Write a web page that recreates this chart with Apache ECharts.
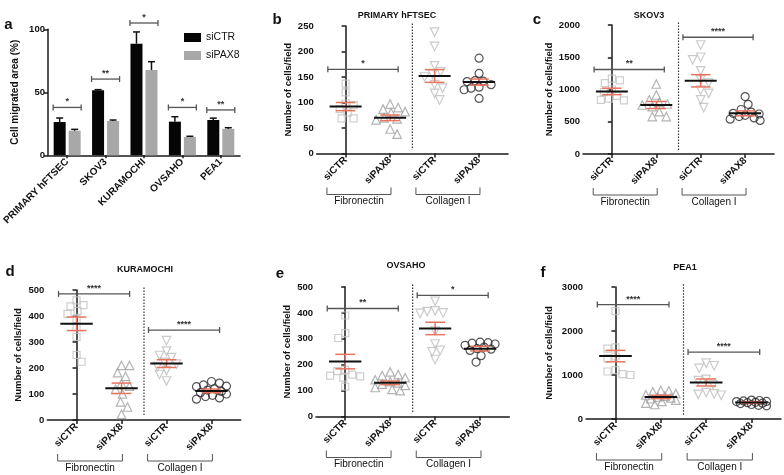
<!DOCTYPE html>
<html><head><meta charset="utf-8">
<script src="https://cdn.jsdelivr.net/npm/echarts@6/dist/echarts.min.js"></script>
<style>html,body{margin:0;padding:0;background:#fff}#c{width:784px;height:475px}</style>
</head><body><div id="c"></div>
<script>
// ---------------- Panel a (bar chart) ----------------
const aCategories = ['PRIMARY hFTSEC', 'SKOV3', 'KURAMOCHI', 'OVSAHO', 'PEA1'];
const aSiCTR      = [26.4, 51.6, 88.6, 26.7, 28.0];
const aSiCTRErr   = [3.2, 0.5, 9.3, 3.9, 1.5];
const aSiPAX8     = [19.5, 27.2, 67.7, 14.5, 21.0];
const aSiPAX8Err  = [1.1, 0.8, 6.6, 0.6, 0.9];
const aSigLevel   = [38, 60.5, 105, 38, 36];
const aSigText    = ['*', '**', '*', '*', '**'];
const aYName      = 'Cell migrated area (%)';

// ---------------- Shared labels ----------------
const groupLabels  = ['siCTR', 'siPAX8', 'siCTR', 'siPAX8'];
const matrixLabels = ['Fibronectin', 'Collagen I'];
const scatterYName = 'Number of cells/field';

// ---------------- Panel b: PRIMARY hFTSEC ----------------
const bTitle  = 'PRIMARY hFTSEC';
const bFnCtr  = [137, 120, 98, 95, 87, 80, 69, 69];
const bFnPax  = [97, 90, 87, 82, 80, 70, 68, 66, 48, 38];
const bColCtr = [238, 210, 172, 160, 155, 150, 135, 128, 118, 105];
const bColPax = [187, 157, 143, 142, 141, 135, 130, 128, 125, 108];
const bMean   = [92, 70, 152, 140];
const bSem    = [8, 5.5, 12.5, 6];
const bSig    = [[0, 1, 165]];
const bSigTxt = ['*'];
const bYMax = 250, bYStep = 50;

// ---------------- Panel c: SKOV3 ----------------
const cTitle  = 'SKOV3';
const cFnCtr  = [1170, 1140, 1100, 1000, 960, 900, 860, 840, 830];
const cFnPax  = [1085, 915, 840, 800, 775, 760, 735, 656, 580, 580];
const cColCtr = [1690, 1500, 1460, 1290, 1150, 1100, 990, 940, 840, 720];
const cColPax = [890, 770, 690, 650, 630, 620, 600, 580, 560, 540, 520];
const cMean   = [970, 760, 1135, 630];
const cSem    = [50, 55, 95, 38];
const cSig    = [[0, 1, 1310], [2, 3, 1810]];
const cSigTxt = ['**', '****'];
const cYMax = 2000, cYStep = 500;

// ---------------- Panel d: KURAMOCHI ----------------
const dTitle  = 'KURAMOCHI';
const dFnCtr  = [460, 442, 437, 420, 408, 388, 356, 320, 250, 224];
const dFnPax  = [210, 210, 182, 168, 140, 130, 118, 100, 70, 50, 22];
const dColCtr = [305, 265, 248, 240, 222, 215, 205, 190, 175, 150];
const dColPax = [148, 142, 135, 130, 128, 120, 115, 110, 105, 100, 95, 90, 85, 80];
const dMean   = [370, 122, 217, 112];
const dSem    = [26, 20, 15, 7];
const dSig    = [[0, 1, 485], [2, 3, 346]];
const dSigTxt = ['****', '****'];
const dYMax = 500, dYStep = 100;

// ---------------- Panel e: OVSAHO ----------------
const eTitle  = 'OVSAHO';
const eFnCtr  = [390, 322, 303, 180, 175, 162, 158, 155, 150, 115];
const eFnPax  = [172, 162, 158, 150, 142, 135, 130, 125, 120, 112, 105, 100];
const eColCtr = [445, 408, 405, 400, 398, 330, 280, 255, 250, 220];
const eColPax = [287, 285, 283, 280, 275, 268, 262, 260, 255, 235, 210];
const eMean   = [212, 130, 340, 262];
const eSem    = [28, 7, 24, 9];
const eSig    = [[0, 1, 417], [2, 3, 468]];
const eSigTxt = ['**', '*'];
const eYMax = 500, eYStep = 100;

// ---------------- Panel f: PEA1 ----------------
const fTitle  = 'PEA1';
const fFnCtr  = [2450, 1630, 1600, 1420, 1380, 1110, 1080, 1020, 1000];
const fFnPax  = [650, 640, 620, 580, 550, 520, 500, 480, 460, 430, 400, 360, 330];
const fColCtr = [1270, 1210, 1150, 900, 870, 780, 600, 570, 560, 540];
const fColPax = [430, 420, 410, 400, 395, 380, 370, 360, 350, 330, 310, 300];
const fMean   = [1430, 500, 830, 375];
const fSem    = [130, 38, 80, 20];
const fSig    = [[0, 1, 2600], [2, 3, 1520]];
const fSigTxt = ['****', '****'];
const fYMax = 3000, fYStep = 1000;

// ================= layout / style =================
const FONT = '"Liberation Sans", Arial, sans-serif';
const AX = '#1a1a1a';
const RED = '#e8745f';
const X_MIN = -0.65, X_MAX = 3.65;

const panels = [
  {letter:'b', title:bTitle, groups:[bFnCtr,bFnPax,bColCtr,bColPax], mean:bMean, sem:bSem, sig:bSig, sigTxt:bSigTxt, yMax:bYMax, yStep:bYStep,
   grid:{left:316.7, top:26, width:191.3, height:127.5}, nameGap:23, letterPos:[277,19.5], titlePos:[397,15.5]},
  {letter:'c', title:cTitle, groups:[cFnCtr,cFnPax,cColCtr,cColPax], mean:cMean, sem:cSem, sig:cSig, sigTxt:cSigTxt, yMax:cYMax, yStep:cYStep,
   grid:{left:583, top:25, width:191, height:129}, nameGap:28.5, letterPos:[537,20], titlePos:[649,15.5]},
  {letter:'d', title:dTitle, groups:[dFnCtr,dFnPax,dColCtr,dColPax], mean:dMean, sem:dSem, sig:dSig, sigTxt:dSigTxt, yMax:dYMax, yStep:dYStep,
   grid:{left:47.3, top:290, width:193.4, height:130}, nameGap:23.5, letterPos:[10,272], titlePos:[145,270]},
  {letter:'e', title:eTitle, groups:[eFnCtr,eFnPax,eColCtr,eColPax], mean:eMean, sem:eSem, sig:eSig, sigTxt:eSigTxt, yMax:eYMax, yStep:eYStep,
   grid:{left:316, top:287, width:193.3, height:129.5}, nameGap:23.5, letterPos:[280,274], titlePos:[406,266]},
  {letter:'f', title:fTitle, groups:[fFnCtr,fFnPax,fColCtr,fColPax], mean:fMean, sem:fSem, sig:fSig, sigTxt:fSigTxt, yMax:fYMax, yStep:fYStep,
   grid:{left:586, top:287, width:195, height:132}, nameGap:31.5, letterPos:[543,273], titlePos:[685,268]}
];

const shapes = [
  {symbol:'rect', size:7, color:'#c2c2c2', rotate:0},
  {symbol:'triangle', size:8.5, color:'#a0a0a0', rotate:0},
  {symbol:'triangle', size:8.5, color:'#bebebe', rotate:180},
  {symbol:'circle', size:8, color:'#2a2a2a', rotate:0}
];

// beeswarm layout (positions only): each point takes the x offset (within +/-maxOff px)
// closest to the group centre at which it does not overlap earlier points; if none, the least overlapping.
function swarm(vals, center, pxPerX, pxPerY, minDist, maxOff) {
  const order = vals.map((v, i) => i).sort((p, q) => vals[q] - vals[p]);
  const placed = [];
  const out = [];
  order.forEach((k, n) => {
    const y = vals[k] * pxPerY;
    const cands = [0];
    for (let s = 1; s <= maxOff; s++) { if (n % 2) cands.push(s, -s); else cands.push(-s, s); }
    let best = null, bestD = -1, bestDx = 0;
    for (const dx of cands) {
      const d = placed.length ? Math.min(...placed.map(q => Math.hypot(q[0] - dx, q[1] - y))) : Infinity;
      if (d >= minDist) { best = dx; break; }
      if (d > bestD) { bestD = d; bestDx = dx; }
    }
    if (best === null) best = bestDx;
    placed.push([best, y]);
    out.push([center + best / pxPerX, vals[k]]);
  });
  return out;
}

const grids = [{left:45, top:29.3, width:195, height:126}];
const xAxes = [];
const yAxes = [];
const series = [];
const graphics = [];

// ---- panel a axes ----
xAxes.push({type:'category', gridIndex:0, data:aCategories,
  axisLine:{show:true, lineStyle:{color:AX, width:1.5}},
  axisTick:{show:true, alignWithLabel:true, length:3, lineStyle:{color:AX, width:1.5}},
  axisLabel:{rotate:45, fontWeight:'bold', fontSize:10, color:'#111', margin:5, interval:0, fontFamily:FONT},
  splitLine:{show:false}});
yAxes.push({type:'value', gridIndex:0, min:0, max:100, interval:50, name:aYName, nameLocation:'middle', nameGap:28,
  nameTextStyle:{fontWeight:'bold', fontSize:10, color:'#111', fontFamily:FONT},
  axisLine:{show:true, lineStyle:{color:AX, width:1.5}},
  axisTick:{show:true, length:4, lineStyle:{color:AX, width:1.5}},
  axisLabel:{fontWeight:'bold', fontSize:9.5, color:'#111', margin:3, fontFamily:FONT},
  splitLine:{show:false}});

series.push({name:'siCTR', type:'bar', xAxisIndex:0, yAxisIndex:0, data:aSiCTR, barWidth:12, barGap:'25%', itemStyle:{color:'#050505'}});
series.push({name:'siPAX8', type:'bar', xAxisIndex:0, yAxisIndex:0, data:aSiPAX8, barWidth:12, itemStyle:{color:'#a8a8a8'}});
const aErrData = [];
aSiCTR.forEach((v, i) => aErrData.push([i, v, aSiCTRErr[i], 0]));
aSiPAX8.forEach((v, i) => aErrData.push([i, v, aSiPAX8Err[i], 1]));
series.push({type:'custom', xAxisIndex:0, yAxisIndex:0, clip:false, silent:true, z:5, data:aErrData,
  renderItem(params, api) {
    const c = api.coord([api.value(0), api.value(1)]);
    const t = api.coord([api.value(0), api.value(1) + api.value(2)]);
    const x = c[0] + (api.value(3) === 0 ? -7.5 : 7.5);
    return {type:'group', children:[
      {type:'line', shape:{x1:x, y1:c[1], x2:x, y2:t[1]}, style:{stroke:'#111', lineWidth:1.5}},
      {type:'line', shape:{x1:x - 3.5, y1:t[1], x2:x + 3.5, y2:t[1]}, style:{stroke:'#111', lineWidth:1.5}}
    ]};
  }});
series.push({type:'custom', xAxisIndex:0, yAxisIndex:0, clip:false, silent:true, z:5,
  data:aSigLevel.map((y, i) => [i, y]),
  renderItem(params, api) {
    const c = api.coord([api.value(0), api.value(1)]);
    const x1 = c[0] - 14, x2 = c[0] + 14, y = c[1];
    return {type:'group', children:[
      {type:'line', shape:{x1, y1:y, x2, y2:y}, style:{stroke:'#555', lineWidth:1.3}},
      {type:'line', shape:{x1, y1:y - 3, x2:x1, y2:y + 3}, style:{stroke:'#555', lineWidth:1.3}},
      {type:'line', shape:{x1:x2, y1:y - 3, x2, y2:y + 3}, style:{stroke:'#555', lineWidth:1.3}},
      {type:'text', style:{text:aSigText[params.dataIndex], x:c[0], y:y - 1, align:'center', verticalAlign:'bottom', fill:'#333', font:'bold 9px ' + FONT}}
    ]};
  }});
graphics.push({type:'text', x:8.5, y:24.5, style:{text:'a', font:'bold 15px ' + FONT, fill:'#111', align:'center', verticalAlign:'middle'}});

// ---- scatter panels ----
panels.forEach((p, k) => {
  const gi = k + 1;
  grids.push(p.grid);
  const pxPerX = p.grid.width / (X_MAX - X_MIN);
  const pxPerY = p.grid.height / p.yMax;
  xAxes.push({type:'value', gridIndex:gi, min:X_MIN, max:X_MAX,
    axisLine:{show:true, onZero:false, lineStyle:{color:AX, width:1.5}},
    axisTick:{show:true, customValues:[0, 1, 2, 3], length:4, lineStyle:{color:AX, width:1.5}},
    axisLabel:{show:true, customValues:[0, 1, 2, 3], formatter:(v) => groupLabels[Math.round(v)], rotate:45,
      fontWeight:'bold', fontSize:10, color:'#111', margin:5, fontFamily:FONT},
    splitLine:{show:false}});
  yAxes.push({type:'value', gridIndex:gi, min:0, max:p.yMax, interval:p.yStep, name:scatterYName, nameLocation:'middle', nameGap:p.nameGap,
    nameTextStyle:{fontWeight:'bold', fontSize:9.5, color:'#111', fontFamily:FONT},
    axisLine:{show:true, lineStyle:{color:AX, width:1.5}},
    axisTick:{show:true, length:4, lineStyle:{color:AX, width:1.5}},
    axisLabel:{fontWeight:'bold', fontSize:9.5, color:'#111', margin:3, fontFamily:FONT, formatter:(v) => String(v)},
    splitLine:{show:false}});

  p.groups.forEach((vals, g) => {
    const sh = shapes[g];
    series.push({type:'scatter', xAxisIndex:gi, yAxisIndex:gi, silent:true,
      data:swarm(vals, g, pxPerX, pxPerY, 8, 15),
      symbol:sh.symbol, symbolSize:sh.size, symbolRotate:sh.rotate,
      itemStyle:{color:'rgba(255,255,255,0)', borderColor:sh.color, borderWidth:1.2}});
  });

  // separator
  series.push({type:'custom', xAxisIndex:gi, yAxisIndex:gi, clip:false, silent:true, data:[[1.5, p.yMax]],
    renderItem(params, api) {
      const t = api.coord([api.value(0), api.value(1) * 1.02]);
      const b = api.coord([api.value(0), api.value(1) * 0.03]);
      return {type:'line', shape:{x1:t[0], y1:t[1], x2:b[0], y2:b[1]}, style:{stroke:'#333', lineWidth:1.2, lineDash:[1.5, 1.5]}};
    }});

  // mean +/- SEM
  series.push({type:'custom', xAxisIndex:gi, yAxisIndex:gi, clip:false, silent:true, z:6,
    data:p.mean.map((m, g) => [g, m, p.sem[g]]),
    renderItem(params, api) {
      const x = api.value(0), m = api.value(1), s = api.value(2);
      const pm = api.coord([x, m]), pl = api.coord([x - 0.36, m]), pr = api.coord([x + 0.36, m]);
      const pt = api.coord([x, m + s]), pb = api.coord([x, m - s]);
      const cl = api.coord([x - 0.22, m])[0], cr = api.coord([x + 0.22, m])[0];
      return {type:'group', children:[
        {type:'line', shape:{x1:pm[0], y1:pt[1], x2:pm[0], y2:pb[1]}, style:{stroke:RED, lineWidth:1.5}},
        {type:'line', shape:{x1:cl, y1:pt[1], x2:cr, y2:pt[1]}, style:{stroke:RED, lineWidth:1.5}},
        {type:'line', shape:{x1:cl, y1:pb[1], x2:cr, y2:pb[1]}, style:{stroke:RED, lineWidth:1.5}},
        {type:'line', shape:{x1:pl[0], y1:pm[1], x2:pr[0], y2:pm[1]}, style:{stroke:'#111', lineWidth:2}}
      ]};
    }});

  // significance brackets
  series.push({type:'custom', xAxisIndex:gi, yAxisIndex:gi, clip:false, silent:true, z:5, data:p.sig,
    renderItem(params, api) {
      const a = api.coord([api.value(0) - 0.4, api.value(2)]);
      const b = api.coord([api.value(1) + 0.18, api.value(2)]);
      const y = a[1];
      return {type:'group', children:[
        {type:'line', shape:{x1:a[0], y1:y, x2:b[0], y2:y}, style:{stroke:'#555', lineWidth:1.3}},
        {type:'line', shape:{x1:a[0], y1:y - 3, x2:a[0], y2:y + 3}, style:{stroke:'#555', lineWidth:1.3}},
        {type:'line', shape:{x1:b[0], y1:y - 3, x2:b[0], y2:y + 3}, style:{stroke:'#555', lineWidth:1.3}},
        {type:'text', style:{text:p.sigTxt[params.dataIndex], x:(a[0] + b[0]) / 2, y:y - 1, align:'center', verticalAlign:'bottom', fill:'#333', font:'bold 9px ' + FONT}}
      ]};
    }});

  // matrix group brackets below the axis
  series.push({type:'custom', xAxisIndex:gi, yAxisIndex:gi, clip:false, silent:true, data:[[0, 1], [2, 3]],
    renderItem(params, api) {
      const a = api.coord([api.value(0) - 0.42, 0]);
      const b = api.coord([api.value(1) + 0.02, 0]);
      const y0 = a[1];
      return {type:'group', children:[
        {type:'polyline', shape:{points:[[a[0], y0 + 34], [a[0], y0 + 41], [b[0], y0 + 41], [b[0], y0 + 34]]}, style:{stroke:'#555', lineWidth:1, fill:null}},
        {type:'text', style:{text:matrixLabels[params.dataIndex], x:(a[0] + b[0]) / 2, y:y0 + 43, align:'center', verticalAlign:'top', fill:'#111', font:'10px ' + FONT}}
      ]};
    }});

  graphics.push({type:'text', x:p.letterPos[0], y:p.letterPos[1], style:{text:p.letter, font:'bold 15px ' + FONT, fill:'#111', align:'center', verticalAlign:'middle'}});
  graphics.push({type:'text', x:p.titlePos[0], y:p.titlePos[1], style:{text:p.title, font:'bold 9px ' + FONT, fill:'#111', align:'center', verticalAlign:'middle'}});
});

const chart = echarts.init(document.getElementById('c'), null, {renderer:'canvas'});
chart.setOption({
  animation:false,
  backgroundColor:'#fff',
  textStyle:{fontFamily:FONT},
  legend:{data:['siCTR', 'siPAX8'], orient:'vertical', left:179, top:27, itemWidth:17, itemHeight:9, itemGap:7, icon:'rect',
    textStyle:{fontSize:10.5, color:'#111', fontFamily:FONT}},
  grid:grids, xAxis:xAxes, yAxis:yAxes, series:series, graphic:graphics
});
</script></body></html>
